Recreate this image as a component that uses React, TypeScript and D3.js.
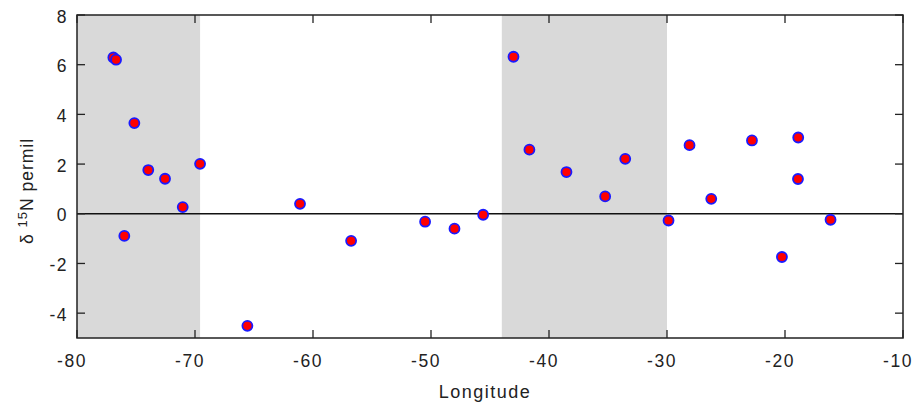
import React from "react";
import * as d3 from "d3";

const longitudes = [
  -76.92, -76.69, -75.14, -73.96, -72.54, -69.57, -71.04, -75.99, -65.56, -61.1,
  -56.77, -50.5, -48.01, -45.58, -43.01, -41.66, -38.52, -35.24, -33.54, -29.87,
  -28.09, -26.25, -22.8, -18.88, -18.9, -20.26, -16.14,
];
const d15N = [
  6.29, 6.2, 3.65, 1.76, 1.41, 2.01, 0.27, -0.89, -4.51, 0.4,
  -1.09, -0.32, -0.6, -0.04, 6.32, 2.58, 1.68, 0.7, 2.21, -0.27,
  2.76, 0.6, 2.95, 3.07, 1.4, -1.74, -0.24,
];
const shadeStarts = [-80, -44.0];
const shadeEnds = [-69.57, -30];
const xTicks = [-80, -70, -60, -50, -40, -30, -20, -10];
const yTicks = [-4, -2, 0, 2, 4, 6, 8];

const W = 915;
const H = 405;
const L = 77;
const R = 903;
const T = 15;
const B = 338;

export default function App() {
  const x = d3.scaleLinear().domain([-80, -10]).range([L, R]);
  const y = d3.scaleLinear().domain([-5, 8]).range([B, T]);
  const tl = 8;
  const font = "'Liberation Sans', Arial, Helvetica, sans-serif";
  const axisColor = "#222";
  const textColor = "#222";
  return (
    <svg
      width={W}
      height={H}
      style={{ position: "absolute", left: 0, top: 0, background: "#fff" }}
    >
      {shadeStarts.map((s, i) => (
        <rect
          key={"s" + i}
          x={x(s)}
          y={T}
          width={x(shadeEnds[i]) - x(s)}
          height={B - T}
          fill="#d9d9d9"
        />
      ))}
      <line x1={L} x2={R} y1={y(0)} y2={y(0)} stroke="#111" strokeWidth={1.3} />
      <rect x={L} y={T} width={R - L} height={B - T} fill="none" stroke={axisColor} strokeWidth={1.5} />
      {xTicks.map((t) => (
        <g key={"xt" + t}>
          <line x1={x(t)} x2={x(t)} y1={B} y2={B - tl} stroke={axisColor} strokeWidth={1.3} />
          <line x1={x(t)} x2={x(t)} y1={T} y2={T + tl} stroke={axisColor} strokeWidth={1.3} />
          <text
            x={x(t) - 5}
            y={361}
            textAnchor="middle"
            dominantBaseline="central"
            fontFamily={font}
            fontSize={17.5}
            letterSpacing={1.5}
            fill={textColor}
          >
            {t}
          </text>
        </g>
      ))}
      {yTicks.map((t) => (
        <g key={"yt" + t}>
          <line x1={L} x2={L + tl} y1={y(t)} y2={y(t)} stroke={axisColor} strokeWidth={1.3} />
          <line x1={R} x2={R - tl} y1={y(t)} y2={y(t)} stroke={axisColor} strokeWidth={1.3} />
          <text
            x={68}
            y={y(t) + 1.5}
            textAnchor="end"
            dominantBaseline="central"
            fontFamily={font}
            fontSize={17.5}
            letterSpacing={1.5}
            fill={textColor}
          >
            {t}
          </text>
        </g>
      ))}
      {longitudes.map((lon, i) => (
        <circle
          key={"p" + i}
          cx={x(lon)}
          cy={y(d15N[i])}
          r={5}
          fill="#ff0000"
          stroke="#1a1aff"
          strokeWidth={1.8}
        />
      ))}
      <text
        x={485}
        y={398}
        textAnchor="middle"
        fontFamily={font}
        fontSize={18}
        letterSpacing={1.5}
        fill={textColor}
      >
        Longitude
      </text>
      <text
        transform={`translate(33, ${191}) rotate(-90)`}
        textAnchor="middle"
        fontFamily={font}
        fontSize={17.5}
        letterSpacing={1}
        fill={textColor}
      >
        <tspan>δ </tspan>
        <tspan fontSize={13} dy={-6}>15</tspan>
        <tspan dy={6}>N permil</tspan>
      </text>
    </svg>
  );
}
